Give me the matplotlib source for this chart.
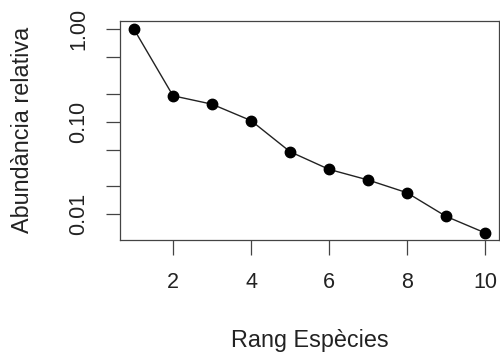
import matplotlib
matplotlib.use("Agg")
import matplotlib.pyplot as plt
from matplotlib.ticker import NullLocator

plt.rcParams['font.family'] = ['Liberation Sans', 'DejaVu Sans']

rank = [1, 2, 3, 4, 5, 6, 7, 8, 9, 10]
abundance = [1.0, 0.191, 0.155, 0.103, 0.0475, 0.0306, 0.0235, 0.0171, 0.0095, 0.0063]

xticks = [2, 4, 6, 8, 10]
yticks = [0.01, 0.02, 0.05, 0.1, 0.2, 0.5, 1.0]
ytick_labels = ['0.01', '', '', '0.10', '', '', '1.00']

fig = plt.figure(figsize=(5.0, 3.55), dpi=100)
ax = fig.add_axes([0.24, 0.324, 0.758, 0.6177])

ax.plot(rank, abundance, color='#222222', lw=1.0, marker='o', ms=7.5,
        mfc='black', mec='black', zorder=3)
ax.set_yscale('log')

ax.set_xlim(0.64, 10.36)
ax.set_ylim(10 ** -2.278, 10 ** 0.093)

ax.set_xticks(xticks)
ax.set_xticklabels([str(t) for t in xticks])
ax.set_yticks(yticks)
ax.set_yticklabels(ytick_labels, rotation=90, va='center')
ax.yaxis.set_minor_locator(NullLocator())
ax.xaxis.set_minor_locator(NullLocator())

ax.tick_params(axis='x', direction='out', length=10.8, width=0.9, color='#444444',
               labelsize=15.5, pad=12.5, labelcolor='#222222')
ax.tick_params(axis='y', direction='out', length=10.2, width=0.9, color='#444444',
               labelsize=15.5, pad=12, labelcolor='#222222')

for s in ax.spines.values():
    s.set_linewidth(0.9)
    s.set_color('#444444')

ax.set_xlabel('Rang Espècies', fontsize=16.8, color='#222222')
ax.set_ylabel('Abundància relativa', fontsize=16.8, color='#222222')
ax.xaxis.set_label_coords(0.5, -0.46)
ax.xaxis.label.set_va('center')
ax.yaxis.set_label_coords(-0.256, 0.5)
ax.yaxis.label.set_va('center')

fig.savefig('out.png', dpi=100)
